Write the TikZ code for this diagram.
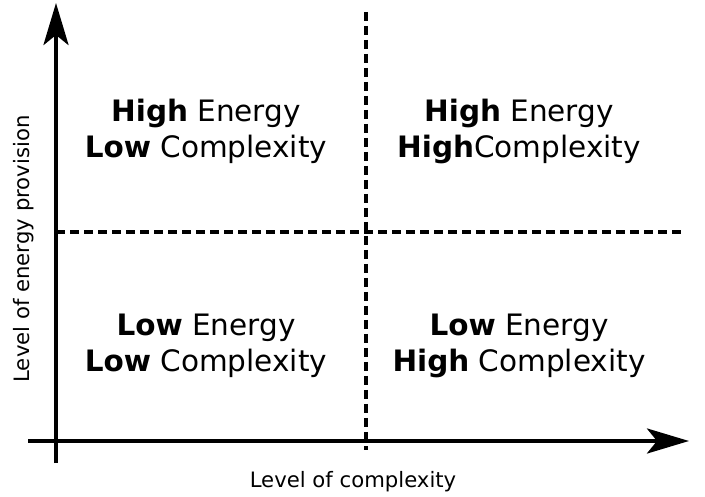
\documentclass[tikz,border=0pt]{standalone}
\usepackage{fontspec}
\setmainfont{DejaVu Sans}
\usetikzlibrary{arrows.meta}
\begin{document}
\begin{tikzpicture}[x=1pt,y=-1pt,
  axis/.style={line width=4.3pt,-{Stealth[length=42pt,width=25pt,inset=10pt]}},
  divider/.style={line width=4.5pt,dash pattern=on 9pt off 5pt},
  quad/.style={align=center,font=\fontsize{29.5}{36}\selectfont,inner sep=0pt},
  axlabel/.style={font=\fontsize{21.2}{25}\selectfont,inner sep=0pt}]
\useasboundingbox (0,0) rectangle (705,497);
\coordinate (xs) at (28,441);
\coordinate (xe) at (689,441);
\coordinate (ys) at (56,463);
\coordinate (ye) at (56,3);
\coordinate (vt) at (366,12);
\coordinate (vb) at (366,450);
\coordinate (hl) at (56,232);
\coordinate (hr) at (682,232);
\draw[divider] (vt) -- (vb);
\draw[divider] (hl) -- (hr);
\draw[axis] (xs) -- (xe);
\draw[axis] (ys) -- (ye);
\node[quad] (tl) at (206,131) {\textbf{High} Energy\\\textbf{Low} Complexity};
\node[quad] (tr) at (519,131) {\textbf{High} Energy\\\textbf{High}Complexity};
\node[quad] (bl) at (206,346) {\textbf{Low} Energy\\\textbf{Low} Complexity};
\node[quad] (br) at (519,346) {\textbf{Low} Energy\\\textbf{High} Complexity};
\node[axlabel,anchor=base] (xl) at (353,487) {Level of complexity};
\node[axlabel,anchor=base,rotate=90] (yl) at (30,249) {Level of energy provision};
\end{tikzpicture}
\end{document}
